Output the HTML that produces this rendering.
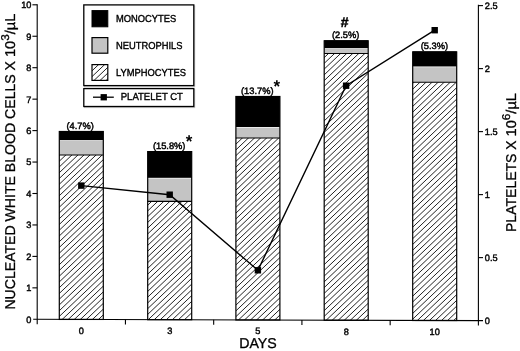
<!DOCTYPE html>
<html><head><meta charset="utf-8"><title>Chart</title>
<style>
html,body{margin:0;padding:0;background:#fff;}
svg{display:block;will-change:transform;}
text{font-family:"Liberation Sans",Arial,Helvetica,sans-serif;fill:#000;text-rendering:geometricPrecision;}
.t{font-size:9.2px;stroke:#000;stroke-width:.42px;}
.l{font-size:9.35px;stroke:#000;stroke-width:.35px;}
.p{font-size:9.3px;stroke:#000;stroke-width:.45px;}
.a{font-size:14.2px;stroke:#000;stroke-width:.3px;}
</style></head><body>
<svg width="520" height="351" viewBox="0 0 520 351">
<rect width="520" height="351" fill="#fff"/>

<clipPath id="c0"><rect x="59.30" y="155.00" width="44.00" height="164.43"/></clipPath>
<g clip-path="url(#c0)" stroke="#181818" stroke-width="0.95"><line x1="57.30" y1="145.85" x2="105.30" y2="100.23"/><line x1="57.30" y1="151.60" x2="105.30" y2="105.98"/><line x1="57.30" y1="157.35" x2="105.30" y2="111.73"/><line x1="57.30" y1="163.10" x2="105.30" y2="117.48"/><line x1="57.30" y1="168.85" x2="105.30" y2="123.23"/><line x1="57.30" y1="174.60" x2="105.30" y2="128.98"/><line x1="57.30" y1="180.35" x2="105.30" y2="134.73"/><line x1="57.30" y1="186.10" x2="105.30" y2="140.48"/><line x1="57.30" y1="191.85" x2="105.30" y2="146.23"/><line x1="57.30" y1="197.60" x2="105.30" y2="151.98"/><line x1="57.30" y1="203.35" x2="105.30" y2="157.73"/><line x1="57.30" y1="209.10" x2="105.30" y2="163.48"/><line x1="57.30" y1="214.85" x2="105.30" y2="169.23"/><line x1="57.30" y1="220.60" x2="105.30" y2="174.98"/><line x1="57.30" y1="226.35" x2="105.30" y2="180.73"/><line x1="57.30" y1="232.10" x2="105.30" y2="186.48"/><line x1="57.30" y1="237.85" x2="105.30" y2="192.23"/><line x1="57.30" y1="243.60" x2="105.30" y2="197.98"/><line x1="57.30" y1="249.35" x2="105.30" y2="203.73"/><line x1="57.30" y1="255.10" x2="105.30" y2="209.48"/><line x1="57.30" y1="260.85" x2="105.30" y2="215.23"/><line x1="57.30" y1="266.60" x2="105.30" y2="220.98"/><line x1="57.30" y1="272.35" x2="105.30" y2="226.73"/><line x1="57.30" y1="278.10" x2="105.30" y2="232.48"/><line x1="57.30" y1="283.85" x2="105.30" y2="238.23"/><line x1="57.30" y1="289.60" x2="105.30" y2="243.98"/><line x1="57.30" y1="295.35" x2="105.30" y2="249.73"/><line x1="57.30" y1="301.10" x2="105.30" y2="255.48"/><line x1="57.30" y1="306.85" x2="105.30" y2="261.23"/><line x1="57.30" y1="312.60" x2="105.30" y2="266.98"/><line x1="57.30" y1="318.35" x2="105.30" y2="272.73"/><line x1="57.30" y1="324.10" x2="105.30" y2="278.48"/><line x1="57.30" y1="329.85" x2="105.30" y2="284.23"/><line x1="57.30" y1="335.60" x2="105.30" y2="289.98"/><line x1="57.30" y1="341.35" x2="105.30" y2="295.73"/><line x1="57.30" y1="347.10" x2="105.30" y2="301.48"/><line x1="57.30" y1="352.85" x2="105.30" y2="307.23"/><line x1="57.30" y1="358.60" x2="105.30" y2="312.98"/><line x1="57.30" y1="364.35" x2="105.30" y2="318.73"/><line x1="57.30" y1="370.10" x2="105.30" y2="324.48"/></g>
<rect x="59.30" y="140.10" width="44.00" height="14.90" fill="#c4c4c4"/>
<rect x="59.30" y="140.10" width="44.00" height="0.9" fill="#eee"/>
<rect x="59.30" y="131.00" width="44.00" height="9.10" fill="#000"/>
<line x1="59.30" y1="155.00" x2="103.30" y2="155.00" stroke="#000" stroke-width="1.1"/>
<rect x="59.30" y="131.50" width="44.00" height="187.93" fill="none" stroke="#000" stroke-width="1.2"/>
<text class="p" x="80.10" y="129.40" text-anchor="middle">(4.7%)</text>
<clipPath id="c1"><rect x="147.70" y="201.40" width="44.00" height="118.30"/></clipPath>
<g clip-path="url(#c1)" stroke="#181818" stroke-width="0.95"><line x1="145.70" y1="195.56" x2="193.70" y2="149.94"/><line x1="145.70" y1="201.31" x2="193.70" y2="155.69"/><line x1="145.70" y1="207.06" x2="193.70" y2="161.44"/><line x1="145.70" y1="212.81" x2="193.70" y2="167.19"/><line x1="145.70" y1="218.56" x2="193.70" y2="172.94"/><line x1="145.70" y1="224.31" x2="193.70" y2="178.69"/><line x1="145.70" y1="230.06" x2="193.70" y2="184.44"/><line x1="145.70" y1="235.81" x2="193.70" y2="190.19"/><line x1="145.70" y1="241.56" x2="193.70" y2="195.94"/><line x1="145.70" y1="247.31" x2="193.70" y2="201.69"/><line x1="145.70" y1="253.06" x2="193.70" y2="207.44"/><line x1="145.70" y1="258.81" x2="193.70" y2="213.19"/><line x1="145.70" y1="264.56" x2="193.70" y2="218.94"/><line x1="145.70" y1="270.31" x2="193.70" y2="224.69"/><line x1="145.70" y1="276.06" x2="193.70" y2="230.44"/><line x1="145.70" y1="281.81" x2="193.70" y2="236.19"/><line x1="145.70" y1="287.56" x2="193.70" y2="241.94"/><line x1="145.70" y1="293.31" x2="193.70" y2="247.69"/><line x1="145.70" y1="299.06" x2="193.70" y2="253.44"/><line x1="145.70" y1="304.81" x2="193.70" y2="259.19"/><line x1="145.70" y1="310.56" x2="193.70" y2="264.94"/><line x1="145.70" y1="316.31" x2="193.70" y2="270.69"/><line x1="145.70" y1="322.06" x2="193.70" y2="276.44"/><line x1="145.70" y1="327.81" x2="193.70" y2="282.19"/><line x1="145.70" y1="333.56" x2="193.70" y2="287.94"/><line x1="145.70" y1="339.31" x2="193.70" y2="293.69"/><line x1="145.70" y1="345.06" x2="193.70" y2="299.44"/><line x1="145.70" y1="350.81" x2="193.70" y2="305.19"/><line x1="145.70" y1="356.56" x2="193.70" y2="310.94"/><line x1="145.70" y1="362.31" x2="193.70" y2="316.69"/><line x1="145.70" y1="368.06" x2="193.70" y2="322.44"/><line x1="145.70" y1="373.81" x2="193.70" y2="328.19"/></g>
<rect x="147.70" y="177.80" width="44.00" height="23.60" fill="#c4c4c4"/>
<rect x="147.70" y="177.80" width="44.00" height="0.9" fill="#eee"/>
<rect x="147.70" y="151.10" width="44.00" height="26.70" fill="#000"/>
<line x1="147.70" y1="201.40" x2="191.70" y2="201.40" stroke="#000" stroke-width="1.1"/>
<rect x="147.70" y="151.60" width="44.00" height="168.10" fill="none" stroke="#000" stroke-width="1.2"/>
<text class="p" x="169.20" y="148.80" text-anchor="middle">(15.8%)</text>
<clipPath id="c2"><rect x="235.90" y="138.00" width="44.00" height="181.96"/></clipPath>
<g clip-path="url(#c2)" stroke="#181818" stroke-width="0.95"><line x1="233.90" y1="128.79" x2="281.90" y2="83.17"/><line x1="233.90" y1="134.54" x2="281.90" y2="88.92"/><line x1="233.90" y1="140.29" x2="281.90" y2="94.67"/><line x1="233.90" y1="146.04" x2="281.90" y2="100.42"/><line x1="233.90" y1="151.79" x2="281.90" y2="106.17"/><line x1="233.90" y1="157.54" x2="281.90" y2="111.92"/><line x1="233.90" y1="163.29" x2="281.90" y2="117.67"/><line x1="233.90" y1="169.04" x2="281.90" y2="123.42"/><line x1="233.90" y1="174.79" x2="281.90" y2="129.17"/><line x1="233.90" y1="180.54" x2="281.90" y2="134.92"/><line x1="233.90" y1="186.29" x2="281.90" y2="140.67"/><line x1="233.90" y1="192.04" x2="281.90" y2="146.42"/><line x1="233.90" y1="197.79" x2="281.90" y2="152.17"/><line x1="233.90" y1="203.54" x2="281.90" y2="157.92"/><line x1="233.90" y1="209.29" x2="281.90" y2="163.67"/><line x1="233.90" y1="215.04" x2="281.90" y2="169.42"/><line x1="233.90" y1="220.79" x2="281.90" y2="175.17"/><line x1="233.90" y1="226.54" x2="281.90" y2="180.92"/><line x1="233.90" y1="232.29" x2="281.90" y2="186.67"/><line x1="233.90" y1="238.04" x2="281.90" y2="192.42"/><line x1="233.90" y1="243.79" x2="281.90" y2="198.17"/><line x1="233.90" y1="249.54" x2="281.90" y2="203.92"/><line x1="233.90" y1="255.29" x2="281.90" y2="209.67"/><line x1="233.90" y1="261.04" x2="281.90" y2="215.42"/><line x1="233.90" y1="266.79" x2="281.90" y2="221.17"/><line x1="233.90" y1="272.54" x2="281.90" y2="226.92"/><line x1="233.90" y1="278.29" x2="281.90" y2="232.67"/><line x1="233.90" y1="284.04" x2="281.90" y2="238.42"/><line x1="233.90" y1="289.79" x2="281.90" y2="244.17"/><line x1="233.90" y1="295.54" x2="281.90" y2="249.92"/><line x1="233.90" y1="301.29" x2="281.90" y2="255.67"/><line x1="233.90" y1="307.04" x2="281.90" y2="261.42"/><line x1="233.90" y1="312.79" x2="281.90" y2="267.17"/><line x1="233.90" y1="318.54" x2="281.90" y2="272.92"/><line x1="233.90" y1="324.29" x2="281.90" y2="278.67"/><line x1="233.90" y1="330.04" x2="281.90" y2="284.42"/><line x1="233.90" y1="335.79" x2="281.90" y2="290.17"/><line x1="233.90" y1="341.54" x2="281.90" y2="295.92"/><line x1="233.90" y1="347.29" x2="281.90" y2="301.67"/><line x1="233.90" y1="353.04" x2="281.90" y2="307.42"/><line x1="233.90" y1="358.79" x2="281.90" y2="313.17"/><line x1="233.90" y1="364.54" x2="281.90" y2="318.92"/><line x1="233.90" y1="370.29" x2="281.90" y2="324.67"/></g>
<rect x="235.90" y="127.00" width="44.00" height="11.00" fill="#c4c4c4"/>
<rect x="235.90" y="127.00" width="44.00" height="0.9" fill="#eee"/>
<rect x="235.90" y="96.00" width="44.00" height="31.00" fill="#000"/>
<line x1="235.90" y1="138.00" x2="279.90" y2="138.00" stroke="#000" stroke-width="1.1"/>
<rect x="235.90" y="96.50" width="44.00" height="223.46" fill="none" stroke="#000" stroke-width="1.2"/>
<text class="p" x="257.30" y="93.70" text-anchor="middle">(13.7%)</text>
<clipPath id="c3"><rect x="324.20" y="53.50" width="44.00" height="266.73"/></clipPath>
<g clip-path="url(#c3)" stroke="#181818" stroke-width="0.95"><line x1="322.20" y1="48.00" x2="370.20" y2="2.38"/><line x1="322.20" y1="53.75" x2="370.20" y2="8.13"/><line x1="322.20" y1="59.50" x2="370.20" y2="13.88"/><line x1="322.20" y1="65.25" x2="370.20" y2="19.63"/><line x1="322.20" y1="71.00" x2="370.20" y2="25.38"/><line x1="322.20" y1="76.75" x2="370.20" y2="31.13"/><line x1="322.20" y1="82.50" x2="370.20" y2="36.88"/><line x1="322.20" y1="88.25" x2="370.20" y2="42.63"/><line x1="322.20" y1="94.00" x2="370.20" y2="48.38"/><line x1="322.20" y1="99.75" x2="370.20" y2="54.13"/><line x1="322.20" y1="105.50" x2="370.20" y2="59.88"/><line x1="322.20" y1="111.25" x2="370.20" y2="65.63"/><line x1="322.20" y1="117.00" x2="370.20" y2="71.38"/><line x1="322.20" y1="122.75" x2="370.20" y2="77.13"/><line x1="322.20" y1="128.50" x2="370.20" y2="82.88"/><line x1="322.20" y1="134.25" x2="370.20" y2="88.63"/><line x1="322.20" y1="140.00" x2="370.20" y2="94.38"/><line x1="322.20" y1="145.75" x2="370.20" y2="100.13"/><line x1="322.20" y1="151.50" x2="370.20" y2="105.88"/><line x1="322.20" y1="157.25" x2="370.20" y2="111.63"/><line x1="322.20" y1="163.00" x2="370.20" y2="117.38"/><line x1="322.20" y1="168.75" x2="370.20" y2="123.13"/><line x1="322.20" y1="174.50" x2="370.20" y2="128.88"/><line x1="322.20" y1="180.25" x2="370.20" y2="134.63"/><line x1="322.20" y1="186.00" x2="370.20" y2="140.38"/><line x1="322.20" y1="191.75" x2="370.20" y2="146.13"/><line x1="322.20" y1="197.50" x2="370.20" y2="151.88"/><line x1="322.20" y1="203.25" x2="370.20" y2="157.63"/><line x1="322.20" y1="209.00" x2="370.20" y2="163.38"/><line x1="322.20" y1="214.75" x2="370.20" y2="169.13"/><line x1="322.20" y1="220.50" x2="370.20" y2="174.88"/><line x1="322.20" y1="226.25" x2="370.20" y2="180.63"/><line x1="322.20" y1="232.00" x2="370.20" y2="186.38"/><line x1="322.20" y1="237.75" x2="370.20" y2="192.13"/><line x1="322.20" y1="243.50" x2="370.20" y2="197.88"/><line x1="322.20" y1="249.25" x2="370.20" y2="203.63"/><line x1="322.20" y1="255.00" x2="370.20" y2="209.38"/><line x1="322.20" y1="260.75" x2="370.20" y2="215.13"/><line x1="322.20" y1="266.50" x2="370.20" y2="220.88"/><line x1="322.20" y1="272.25" x2="370.20" y2="226.63"/><line x1="322.20" y1="278.00" x2="370.20" y2="232.38"/><line x1="322.20" y1="283.75" x2="370.20" y2="238.13"/><line x1="322.20" y1="289.50" x2="370.20" y2="243.88"/><line x1="322.20" y1="295.25" x2="370.20" y2="249.63"/><line x1="322.20" y1="301.00" x2="370.20" y2="255.38"/><line x1="322.20" y1="306.75" x2="370.20" y2="261.13"/><line x1="322.20" y1="312.50" x2="370.20" y2="266.88"/><line x1="322.20" y1="318.25" x2="370.20" y2="272.63"/><line x1="322.20" y1="324.00" x2="370.20" y2="278.38"/><line x1="322.20" y1="329.75" x2="370.20" y2="284.13"/><line x1="322.20" y1="335.50" x2="370.20" y2="289.88"/><line x1="322.20" y1="341.25" x2="370.20" y2="295.63"/><line x1="322.20" y1="347.00" x2="370.20" y2="301.38"/><line x1="322.20" y1="352.75" x2="370.20" y2="307.13"/><line x1="322.20" y1="358.50" x2="370.20" y2="312.88"/><line x1="322.20" y1="364.25" x2="370.20" y2="318.63"/><line x1="322.20" y1="370.00" x2="370.20" y2="324.38"/></g>
<rect x="324.20" y="48.10" width="44.00" height="5.40" fill="#c4c4c4"/>
<rect x="324.20" y="48.10" width="44.00" height="0.9" fill="#eee"/>
<rect x="324.20" y="40.30" width="44.00" height="7.80" fill="#000"/>
<line x1="324.20" y1="53.50" x2="368.20" y2="53.50" stroke="#000" stroke-width="1.1"/>
<rect x="324.20" y="40.80" width="44.00" height="279.43" fill="none" stroke="#000" stroke-width="1.2"/>
<text class="p" x="345.70" y="38.20" text-anchor="middle">(2.5%)</text>
<clipPath id="c4"><rect x="412.70" y="82.20" width="44.00" height="238.29"/></clipPath>
<g clip-path="url(#c4)" stroke="#181818" stroke-width="0.95"><line x1="410.70" y1="73.80" x2="458.70" y2="28.18"/><line x1="410.70" y1="79.55" x2="458.70" y2="33.93"/><line x1="410.70" y1="85.30" x2="458.70" y2="39.68"/><line x1="410.70" y1="91.05" x2="458.70" y2="45.43"/><line x1="410.70" y1="96.80" x2="458.70" y2="51.18"/><line x1="410.70" y1="102.55" x2="458.70" y2="56.93"/><line x1="410.70" y1="108.30" x2="458.70" y2="62.68"/><line x1="410.70" y1="114.05" x2="458.70" y2="68.43"/><line x1="410.70" y1="119.80" x2="458.70" y2="74.18"/><line x1="410.70" y1="125.55" x2="458.70" y2="79.93"/><line x1="410.70" y1="131.30" x2="458.70" y2="85.68"/><line x1="410.70" y1="137.05" x2="458.70" y2="91.43"/><line x1="410.70" y1="142.80" x2="458.70" y2="97.18"/><line x1="410.70" y1="148.55" x2="458.70" y2="102.93"/><line x1="410.70" y1="154.30" x2="458.70" y2="108.68"/><line x1="410.70" y1="160.05" x2="458.70" y2="114.43"/><line x1="410.70" y1="165.80" x2="458.70" y2="120.18"/><line x1="410.70" y1="171.55" x2="458.70" y2="125.93"/><line x1="410.70" y1="177.30" x2="458.70" y2="131.68"/><line x1="410.70" y1="183.05" x2="458.70" y2="137.43"/><line x1="410.70" y1="188.80" x2="458.70" y2="143.18"/><line x1="410.70" y1="194.55" x2="458.70" y2="148.93"/><line x1="410.70" y1="200.30" x2="458.70" y2="154.68"/><line x1="410.70" y1="206.05" x2="458.70" y2="160.43"/><line x1="410.70" y1="211.80" x2="458.70" y2="166.18"/><line x1="410.70" y1="217.55" x2="458.70" y2="171.93"/><line x1="410.70" y1="223.30" x2="458.70" y2="177.68"/><line x1="410.70" y1="229.05" x2="458.70" y2="183.43"/><line x1="410.70" y1="234.80" x2="458.70" y2="189.18"/><line x1="410.70" y1="240.55" x2="458.70" y2="194.93"/><line x1="410.70" y1="246.30" x2="458.70" y2="200.68"/><line x1="410.70" y1="252.05" x2="458.70" y2="206.43"/><line x1="410.70" y1="257.80" x2="458.70" y2="212.18"/><line x1="410.70" y1="263.55" x2="458.70" y2="217.93"/><line x1="410.70" y1="269.30" x2="458.70" y2="223.68"/><line x1="410.70" y1="275.05" x2="458.70" y2="229.43"/><line x1="410.70" y1="280.80" x2="458.70" y2="235.18"/><line x1="410.70" y1="286.55" x2="458.70" y2="240.93"/><line x1="410.70" y1="292.30" x2="458.70" y2="246.68"/><line x1="410.70" y1="298.05" x2="458.70" y2="252.43"/><line x1="410.70" y1="303.80" x2="458.70" y2="258.18"/><line x1="410.70" y1="309.55" x2="458.70" y2="263.93"/><line x1="410.70" y1="315.30" x2="458.70" y2="269.68"/><line x1="410.70" y1="321.05" x2="458.70" y2="275.43"/><line x1="410.70" y1="326.80" x2="458.70" y2="281.18"/><line x1="410.70" y1="332.55" x2="458.70" y2="286.93"/><line x1="410.70" y1="338.30" x2="458.70" y2="292.68"/><line x1="410.70" y1="344.05" x2="458.70" y2="298.43"/><line x1="410.70" y1="349.80" x2="458.70" y2="304.18"/><line x1="410.70" y1="355.55" x2="458.70" y2="309.93"/><line x1="410.70" y1="361.30" x2="458.70" y2="315.68"/><line x1="410.70" y1="367.05" x2="458.70" y2="321.43"/><line x1="410.70" y1="372.80" x2="458.70" y2="327.18"/></g>
<rect x="412.70" y="66.40" width="44.00" height="15.80" fill="#c4c4c4"/>
<rect x="412.70" y="66.40" width="44.00" height="0.9" fill="#eee"/>
<rect x="412.70" y="51.40" width="44.00" height="15.00" fill="#000"/>
<line x1="412.70" y1="82.20" x2="456.70" y2="82.20" stroke="#000" stroke-width="1.1"/>
<rect x="412.70" y="51.90" width="44.00" height="268.59" fill="none" stroke="#000" stroke-width="1.2"/>
<text class="p" x="434.40" y="49.30" text-anchor="middle">(5.3%)</text>
<g stroke="#000" stroke-width="1.1" fill="none">
<line x1="37.2" y1="4.2" x2="37.2" y2="324.30"/>
<line x1="478.4" y1="4.8" x2="478.4" y2="325.62"/>
<line x1="33.2" y1="319.30" x2="483.0" y2="320.64"/>
<line x1="32.400000000000006" y1="287.85" x2="37.2" y2="287.85"/>
<line x1="32.400000000000006" y1="256.40" x2="37.2" y2="256.40"/>
<line x1="32.400000000000006" y1="224.95" x2="37.2" y2="224.95"/>
<line x1="32.400000000000006" y1="193.50" x2="37.2" y2="193.50"/>
<line x1="32.400000000000006" y1="162.05" x2="37.2" y2="162.05"/>
<line x1="32.400000000000006" y1="130.60" x2="37.2" y2="130.60"/>
<line x1="32.400000000000006" y1="99.15" x2="37.2" y2="99.15"/>
<line x1="32.400000000000006" y1="67.70" x2="37.2" y2="67.70"/>
<line x1="32.400000000000006" y1="36.25" x2="37.2" y2="36.25"/>
<line x1="32.400000000000006" y1="4.80" x2="37.2" y2="4.80"/>
<line x1="478.4" y1="257.62" x2="483.0" y2="257.62"/>
<line x1="478.4" y1="194.62" x2="483.0" y2="194.62"/>
<line x1="478.4" y1="131.62" x2="483.0" y2="131.62"/>
<line x1="478.4" y1="68.62" x2="483.0" y2="68.62"/>
<line x1="478.4" y1="5.62" x2="483.0" y2="5.62"/>
<line x1="125.44" y1="319.56" x2="125.44" y2="324.56"/>
<line x1="213.68" y1="319.83" x2="213.68" y2="324.83"/>
<line x1="301.92" y1="320.09" x2="301.92" y2="325.09"/>
<line x1="390.16" y1="320.36" x2="390.16" y2="325.36"/>
</g>
<text class="t" x="31.4" y="322.70" text-anchor="end">0</text>
<text class="t" x="31.4" y="291.25" text-anchor="end">1</text>
<text class="t" x="31.4" y="259.80" text-anchor="end">2</text>
<text class="t" x="31.4" y="228.35" text-anchor="end">3</text>
<text class="t" x="31.4" y="196.90" text-anchor="end">4</text>
<text class="t" x="31.4" y="165.45" text-anchor="end">5</text>
<text class="t" x="31.4" y="134.00" text-anchor="end">6</text>
<text class="t" x="31.4" y="102.55" text-anchor="end">7</text>
<text class="t" x="31.4" y="71.10" text-anchor="end">8</text>
<text class="t" x="31.4" y="39.65" text-anchor="end">9</text>
<text class="t" x="31.4" y="8.20" text-anchor="end">10</text>
<text class="t" x="484.8" y="323.92">0</text>
<text class="t" x="484.8" y="260.92">0.5</text>
<text class="t" x="484.8" y="197.92">1</text>
<text class="t" x="484.8" y="134.92">1.5</text>
<text class="t" x="484.8" y="71.92">2</text>
<text class="t" x="484.8" y="8.92">2.5</text>
<text class="t" x="81.30" y="333.93" text-anchor="middle">0</text>
<text class="t" x="169.70" y="334.20" text-anchor="middle">3</text>
<text class="t" x="257.90" y="334.46" text-anchor="middle">5</text>
<text class="t" x="346.20" y="334.73" text-anchor="middle">8</text>
<text class="t" x="434.70" y="334.99" text-anchor="middle">10</text>
<text class="a" x="258" y="348" text-anchor="middle">DAYS</text>
<text class="a" transform="translate(15.2,309.6) rotate(-90)" textLength="248.6" lengthAdjust="spacingAndGlyphs">NUCLEATED WHITE BLOOD CELLS X</text>
<text class="a" transform="translate(15.2,57.1) rotate(-90)" textLength="43.5" lengthAdjust="spacingAndGlyphs">10<tspan font-size="11.3px" dy="-5.8">3</tspan><tspan dy="5.8">/µL</tspan></text>
<text class="a" transform="translate(515.8,232) rotate(-90)" textLength="91.7" lengthAdjust="spacingAndGlyphs">PLATELETS X</text>
<text class="a" transform="translate(515.8,136.4) rotate(-90)" textLength="43.4" lengthAdjust="spacingAndGlyphs">10<tspan font-size="11.3px" dy="-5.8">6</tspan><tspan dy="5.8">/µL</tspan></text>
<polyline points="81.3,185.6 169.7,194.7 257.9,270.3 346.1,85.7 434.7,30.2" fill="none" stroke="#000" stroke-width="1.4"/>
<rect x="78.1" y="182.4" width="6.4" height="6.4" fill="#000"/>
<rect x="166.5" y="191.5" width="6.4" height="6.4" fill="#000"/>
<rect x="254.7" y="267.1" width="6.4" height="6.4" fill="#000"/>
<rect x="342.9" y="82.5" width="6.4" height="6.4" fill="#000"/>
<rect x="431.5" y="27.0" width="6.4" height="6.4" fill="#000"/>
<text x="189" y="146.6" text-anchor="middle" font-size="17px" font-weight="bold">*</text>
<text x="276.8" y="91.9" text-anchor="middle" font-size="17px" font-weight="bold">*</text>
<text x="344.6" y="26.8" text-anchor="middle" font-size="14px" font-weight="bold" stroke="#000" stroke-width=".45">#</text>
<rect x="84.5" y="6" width="110.2" height="80.8" fill="none" stroke="#c4c4c4" stroke-width="1"/>
<rect x="83.8" y="4.9" width="110" height="80.7" fill="#fff" stroke="#000" stroke-width="1.3"/>
<rect x="84.5" y="89.6" width="110.2" height="18" fill="none" stroke="#c4c4c4" stroke-width="1"/>
<rect x="83.8" y="88.6" width="110" height="17.9" fill="#fff" stroke="#000" stroke-width="1.3"/>
<rect x="92" y="10.6" width="15.8" height="16.2" fill="#000" stroke="#000" stroke-width="1"/>
<rect x="92" y="37.6" width="15.8" height="15.6" fill="#c4c4c4" stroke="#000" stroke-width="1.2"/>
<clipPath id="cl"><rect x="92" y="64.6" width="15.8" height="15.8"/></clipPath>
<g clip-path="url(#cl)" stroke="#181818" stroke-width="0.95"><line x1="90.00" y1="55.50" x2="109.80" y2="36.68"/><line x1="90.00" y1="61.25" x2="109.80" y2="42.43"/><line x1="90.00" y1="67.00" x2="109.80" y2="48.18"/><line x1="90.00" y1="72.75" x2="109.80" y2="53.93"/><line x1="90.00" y1="78.50" x2="109.80" y2="59.68"/><line x1="90.00" y1="84.25" x2="109.80" y2="65.43"/><line x1="90.00" y1="90.00" x2="109.80" y2="71.18"/><line x1="90.00" y1="95.75" x2="109.80" y2="76.93"/><line x1="90.00" y1="101.50" x2="109.80" y2="82.68"/><line x1="90.00" y1="107.25" x2="109.80" y2="88.43"/></g>
<rect x="92" y="64.6" width="15.8" height="15.8" fill="none" stroke="#000" stroke-width="1.2"/>
<text class="l" transform="translate(116,22.3) scale(1,1.08)">MONOCYTES</text>
<text class="l" transform="translate(116,49.1) scale(1,1.08)">NEUTROPHILS</text>
<text class="l" transform="translate(116,75.9) scale(1,1.08)">LYMPHOCYTES</text>
<line x1="93.0" y1="97.2" x2="113.8" y2="97.2" stroke="#000" stroke-width="1.3"/>
<rect x="100.6" y="94.1" width="6.3" height="6.3" fill="#000"/>
<text class="l" style="font-size:9.55px" transform="translate(120.7,100.4) scale(1,1.06)">PLATELET CT</text>
</svg></body></html>
